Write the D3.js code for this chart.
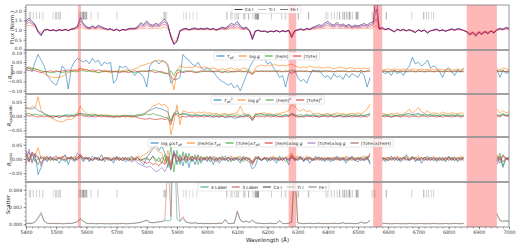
<!DOCTYPE html>
<html>
<head>
<meta charset="utf-8">
<script src="https://cdn.jsdelivr.net/npm/d3@7"></script>
<style>
body{margin:0;background:#fff}
svg{display:block}
text{font-family:"DejaVu Sans",sans-serif}
</style>
</head>
<body>
<svg id="chart" width="520" height="244"></svg>
<script>
var _=null;
// sampling grid (Angstrom), one value every 10 A
var wave=d3.range(5400,7001,10);
// masked regions
var bands=[[5572,5582],[6270,6295],[6550,6580],[6860,6960]];
// line lists
var caI=[5512.98,5581.97,5588.75,5590.11,5594.46,5598.48,5601.28,5857.45,6102.72,6122.22,6161.29,6162.17,6166.44,6169.04,6169.56,6439.07,6449.81,6455.60,6462.57,6471.66,6493.78,6499.65,6717.68];
var tiI=[5490.15,5866.45,5922.11,5941.75,5953.16,5965.83,6064.63,6091.17,6126.22,6258.10,6261.10,6554.22,6556.06,6743.12];
var feI=[5410.91,5415.20,5424.07,5434.52,5445.04,5455.61,5497.52,5501.47,5506.78,5576.09,5586.76,5615.64,5638.26,5701.54,5862.36,5930.18,6065.48,6078.49,6082.71,6096.66,6136.61,6137.69,6151.62,6157.73,6165.36,6213.43,6246.32,6301.50,6302.49,6335.33,6336.82,6393.60,6400.00,6411.65,6421.35,6430.85,6469.19,6475.62,6481.87,6494.98,6498.94,6546.24,6592.91,6593.87,6677.99,6726.67,6733.15,6750.15];

// normalised flux spectra
var fluxLight=[
1.20,1.25,1.20,1.15,1.00,0.88,0.99,1.01,0.99,1.00,
0.98,1.00,0.99,1.01,0.99,1.02,1.04,1.07,1.15,1.10,
1.05,1.04,1.06,1.04,1.06,1.05,1.03,1.01,1.02,1.00,
1.02,0.98,1.01,1.00,1.02,1.03,1.03,1.05,1.08,1.07,
1.12,1.08,1.07,1.10,1.08,1.12,1.15,1.08,0.78,0.40,
0.55,0.95,1.00,1.02,1.00,1.02,1.03,1.01,1.02,1.01,
1.03,1.01,1.02,1.00,1.02,1.04,1.02,1.05,1.07,1.05,
1.08,1.05,1.02,1.04,0.99,0.72,0.96,0.98,0.95,0.96,
0.93,0.95,0.94,0.97,0.93,0.96,0.95,0.98,0.80,0.96,
0.99,1.01,1.00,1.02,1.01,1.04,1.05,1.07,1.06,1.10,
1.12,1.09,1.08,1.10,1.07,1.09,1.06,1.08,1.05,1.07,
1.06,1.08,1.09,1.07,1.10,1.12,1.25,1.03,1.04,1.01,
1.02,1.00,0.95,1.01,0.99,1.01,0.98,1.00,0.97,0.94,
0.99,0.97,0.99,0.92,0.97,0.99,1.01,0.98,0.99,0.97,
0.99,1.01,1.00,1.02,1.01,0.99,0.95,0.86,0.92,0.82,
0.93,0.88,0.94,0.90,0.96,0.92,0.99,1.02,1.01,1.04,
1.02];
var fluxMid=[
1.32,1.40,1.30,1.22,0.95,0.80,0.98,1.02,0.98,1.00,
0.97,1.01,0.99,1.02,0.98,1.03,1.06,1.12,1.30,1.20,
1.10,1.07,1.12,1.08,1.13,1.10,1.06,1.02,1.04,0.99,
1.03,0.97,1.02,1.00,1.04,1.06,1.05,1.10,1.18,1.15,
1.28,1.18,1.15,1.20,1.17,1.25,1.30,1.18,0.70,0.30,
0.45,0.95,1.02,1.05,1.00,1.04,1.06,1.02,1.05,1.03,
1.06,1.02,1.05,1.00,1.04,1.08,1.05,1.10,1.15,1.12,
1.18,1.10,1.05,1.08,0.98,0.60,0.95,0.98,0.93,0.95,
0.90,0.94,0.92,0.96,0.91,0.95,0.93,0.97,0.70,0.95,
1.00,1.03,1.00,1.05,1.02,1.08,1.10,1.14,1.12,1.20,
1.25,1.18,1.15,1.22,1.14,1.18,1.12,1.16,1.10,1.14,
1.12,1.15,1.18,1.14,1.20,1.25,1.60,1.05,1.08,1.02,
1.05,1.00,0.92,1.03,0.98,1.02,0.97,1.01,0.96,0.90,
1.00,0.95,0.99,0.88,0.96,0.99,1.02,0.97,1.00,0.95,
0.99,1.03,1.00,1.04,1.02,0.98,0.92,0.80,0.88,0.75,
0.90,0.82,0.92,0.85,0.95,0.88,1.00,1.05,1.02,1.08,
1.05];
var fluxPurple=[
1.40,1.52,1.38,1.26,0.92,0.75,0.99,1.04,0.97,1.01,
0.96,1.02,0.98,1.04,0.97,1.05,1.08,1.16,1.48,1.28,
1.14,1.10,1.17,1.11,1.19,1.14,1.08,1.03,1.06,0.98,
1.04,0.96,1.03,1.00,1.06,1.08,1.07,1.14,1.28,1.22,
1.38,1.24,1.20,1.28,1.22,1.35,1.44,1.24,0.66,0.28,
0.42,0.96,1.04,1.08,1.01,1.06,1.09,1.04,1.08,1.05,
1.09,1.03,1.08,1.00,1.06,1.12,1.08,1.16,1.25,1.20,
1.32,1.16,1.08,1.12,0.98,0.55,0.95,0.99,0.92,0.95,
0.89,0.94,0.92,0.97,0.90,0.96,0.92,0.98,0.65,0.95,
1.01,1.05,1.00,1.08,1.03,1.12,1.15,1.21,1.18,1.29,
1.35,1.25,1.20,1.31,1.20,1.25,1.17,1.23,1.14,1.20,
1.17,1.22,1.26,1.20,1.29,1.33,2.10,1.06,1.11,1.03,
1.08,1.00,0.91,1.04,0.97,1.03,0.96,1.02,0.95,0.88,
1.01,0.94,0.99,0.86,0.96,1.00,1.04,0.96,1.01,0.94,
1.00,1.05,1.00,1.06,1.03,0.98,0.91,0.77,0.87,0.71,
0.89,0.79,0.92,0.82,0.95,0.86,1.01,1.07,1.03,1.11,
1.07];
var fluxDark=[
1.48,1.62,1.45,1.30,0.90,0.70,1.00,1.05,0.97,1.02,
0.95,1.03,0.97,1.05,0.97,1.06,1.10,1.20,1.65,1.35,
1.18,1.12,1.22,1.14,1.25,1.18,1.10,1.04,1.08,0.97,
1.05,0.95,1.04,1.00,1.08,1.10,1.09,1.18,1.38,1.28,
1.48,1.30,1.25,1.35,1.28,1.45,1.58,1.30,0.62,0.25,
0.40,0.98,1.06,1.10,1.02,1.08,1.12,1.05,1.10,1.06,
1.12,1.04,1.10,1.01,1.08,1.16,1.10,1.22,1.35,1.28,
1.45,1.22,1.10,1.16,0.98,0.50,0.96,1.00,0.92,0.96,
0.88,0.95,0.91,0.98,0.90,0.97,0.92,1.00,0.60,0.96,
1.02,1.07,1.01,1.10,1.05,1.15,1.20,1.28,1.24,1.38,
1.45,1.32,1.26,1.40,1.25,1.32,1.22,1.30,1.18,1.26,
1.22,1.28,1.34,1.26,1.38,1.42,2.90,1.08,1.14,1.04,
1.10,1.01,0.90,1.06,0.97,1.05,0.96,1.03,0.94,0.86,
1.02,0.93,1.00,0.84,0.97,1.01,1.06,0.96,1.02,0.94,
1.01,1.07,1.01,1.08,1.05,0.98,0.90,0.74,0.86,0.68,
0.88,0.76,0.92,0.80,0.96,0.84,1.03,1.10,1.05,1.15,
1.10];

// residual terms, in units of 1e-3
var unit=1e-3;
var linTeff=[
10,20,0,50,90,60,30,-20,-40,-60,
-70,-30,30,10,-90,20,50,70,60,50,
60,40,70,50,60,30,50,40,50,-60,
-40,30,20,30,10,0,-20,0,-10,-30,
-80,30,50,60,40,60,50,30,-60,-40,
-40,-30,90,70,60,40,30,50,20,10,
20,10,0,-20,-40,-50,-60,-70,-60,-85,
-70,-100,-60,-20,20,50,70,75,60,70,
40,50,20,0,-30,-20,-80,-10,0,10,
-30,-50,-40,-60,-20,10,0,10,-10,-30,
-20,-40,-10,-30,-20,-40,-10,-30,-10,-20,
-30,0,-20,-80,-30,_,_,_,0,-10,
0,-20,10,-10,0,-20,10,30,75,40,
50,30,40,60,20,30,20,0,-30,10,
20,0,-20,10,0,20,_,_,_,_,
_,_,_,_,_,_,10,-30,10,-10,
0];
var linLogg=[
20,25,20,15,10,0,-10,-20,-25,-30,
-30,-30,-25,-15,-5,0,5,10,20,15,
10,5,0,0,-5,0,5,0,-5,0,
5,0,5,10,5,10,15,20,30,35,
40,45,50,55,60,50,55,40,-20,-95,
0,30,25,20,25,20,30,25,20,25,
20,15,20,15,10,15,10,15,20,10,
15,10,20,15,10,-10,20,30,35,30,
35,30,40,35,30,35,30,35,40,30,
25,20,25,20,30,25,20,25,20,20,
25,20,15,20,25,20,15,20,20,15,
20,15,20,15,20,_,_,_,10,10,
15,10,15,10,10,15,10,10,15,10,
10,15,10,10,15,10,10,15,10,10,
15,10,10,15,10,10,_,_,_,_,
_,_,_,_,_,_,15,10,20,15,
10];
var linFeh=[
20,20,15,15,10,5,0,0,-5,-5,
0,0,-5,0,0,5,0,0,5,5,
0,5,0,0,-5,0,0,5,0,0,
0,5,0,0,5,0,-5,0,5,0,
5,5,10,5,0,-5,-10,-10,5,-20,
10,5,0,5,0,5,0,-5,0,5,
0,5,0,0,5,0,0,-5,0,0,
5,0,0,5,0,-10,0,5,0,5,
0,5,0,5,0,0,5,0,10,0,
5,0,5,0,0,5,0,0,5,0,
0,5,0,0,5,0,5,0,0,5,
0,5,0,5,0,_,_,_,5,0,
0,5,0,0,5,0,0,5,0,0,
5,0,0,5,0,0,5,0,0,5,
0,0,5,0,0,5,_,_,_,_,
_,_,_,_,_,_,5,0,5,0,
0];
var linTife=[
10,5,10,5,0,-5,0,0,5,0,
5,0,5,5,10,5,10,5,15,10,
10,5,10,5,10,5,5,0,5,0,
0,-5,0,0,-5,0,5,0,0,5,
0,5,0,-5,0,0,-5,-10,-25,-40,
-10,0,-5,0,5,0,-5,0,5,0,
5,0,0,5,0,-5,0,5,0,0,
0,5,0,0,-5,-15,5,0,5,0,
5,0,5,0,5,0,0,5,-10,0,
0,5,0,5,0,0,5,0,0,5,
5,0,0,5,0,5,0,0,5,0,
0,5,0,0,10,_,_,_,0,5,
0,0,5,0,0,5,0,0,5,0,
0,5,0,0,5,0,0,5,0,0,
5,0,0,5,0,0,_,_,_,_,
_,_,_,_,_,_,0,5,0,0,
5];

var quadTeff=[
30,28,25,30,20,15,10,5,0,-5,
0,-5,0,5,0,3,0,5,10,8,
5,3,0,5,0,3,0,-3,0,-5,
0,-3,0,0,3,0,-3,0,5,8,
15,20,25,30,28,25,20,15,-20,10,
20,5,10,8,5,0,5,3,0,5,
0,3,-5,0,-3,0,-5,-3,0,-8,
-5,-3,0,3,5,-15,5,8,10,5,
3,5,0,3,-3,0,5,0,10,5,
0,-3,0,5,0,3,0,-3,0,3,
0,3,-3,0,3,0,-3,0,3,0,
0,3,0,5,10,_,_,_,0,3,
0,-3,0,3,0,5,8,10,5,8,
10,5,8,3,5,0,3,0,5,3,
0,3,0,5,0,3,_,_,_,_,
_,_,_,_,_,_,5,0,8,3,
5];
var quadLogg=[
30,25,35,30,68,20,10,0,-5,-10,
-15,-18,-20,-15,-10,-12,-5,10,35,20,
10,5,8,5,3,5,0,3,0,-3,
0,-3,0,3,0,-3,0,5,3,8,
15,25,35,40,45,38,42,30,-65,-20,
40,-30,20,15,12,15,10,15,12,15,
10,12,8,10,5,8,10,5,8,10,
12,35,10,8,5,-10,10,8,10,12,
8,10,5,8,10,12,15,20,40,35,
22,18,25,15,20,10,8,10,5,8,
10,5,8,12,8,10,5,8,10,8,
12,8,15,25,43,_,_,_,10,8,
5,10,8,12,5,8,15,25,10,20,
30,15,10,20,8,12,10,8,15,10,
8,12,10,8,12,10,_,_,_,_,
_,_,_,_,_,_,25,10,20,12,
15];
var quadFeh=[
8,10,5,8,5,3,5,3,0,3,
0,3,0,3,5,3,5,8,10,5,
3,5,3,5,3,3,5,3,3,0,
3,0,3,3,0,3,3,5,3,5,
8,5,10,5,3,0,-5,-3,-15,10,
10,5,8,5,3,5,3,5,3,5,
3,5,3,5,3,3,5,3,5,3,
5,3,5,3,3,-5,5,3,5,3,
5,3,5,3,5,3,5,3,8,5,
3,5,3,5,3,5,3,3,5,3,
5,3,5,3,3,5,3,5,3,5,
3,5,3,5,8,_,_,_,3,5,
3,5,3,3,5,3,5,3,5,3,
5,3,3,5,3,5,3,3,5,3,
3,5,3,5,3,3,_,_,_,_,
_,_,_,_,_,_,5,3,8,3,
5];
var quadTife=[
5,0,3,0,-3,0,-3,0,0,-3,
0,-3,0,0,-3,0,0,3,5,0,
0,-3,0,-3,0,-3,0,0,-3,0,
-3,0,0,-3,0,-3,0,-5,-8,-10,
-10,-8,-10,-12,-10,-8,-12,-8,-30,5,
5,-5,0,-3,0,-3,0,-3,0,-3,
0,-3,0,0,-3,0,-3,0,-3,0,
-3,0,-3,0,-3,-15,0,-3,0,-3,
0,-3,0,-3,0,-3,0,0,5,0,
-3,0,-3,0,0,-3,0,-3,0,0,
-3,0,-3,0,0,-3,0,0,-3,0,
0,-3,0,-3,5,_,_,_,0,-3,
0,-3,0,0,-3,0,0,-3,0,0,
-3,0,0,-3,0,0,-3,0,-3,0,
0,-3,0,0,-3,0,_,_,_,_,
_,_,_,_,_,_,0,-3,5,0,
0];

var crossLoggTeff=[
10,25,-10,20,-55,-30,5,-10,10,-5,
0,-15,5,15,-20,10,-5,20,10,-10,
5,-10,10,0,-5,15,-10,5,0,-15,
10,-5,5,-10,0,10,-5,5,-10,-20,
5,20,35,50,30,45,20,-10,-40,30,
-20,15,-25,20,-30,10,-20,15,-15,5,
-10,10,-20,5,-15,0,10,-10,5,-5,
0,-15,10,-5,-10,-35,-25,10,-5,5,
-10,5,0,-15,10,-5,5,-20,10,0,
-5,10,-10,5,-15,0,10,-5,5,-10,
5,-10,0,10,-5,5,-15,0,10,-5,
-10,5,-5,10,-20,_,_,_,5,-10,
0,10,-5,5,-10,0,15,-5,10,-10,
5,-15,0,10,-5,5,-10,0,5,-10,
10,-5,5,-10,0,5,_,_,_,_,
_,_,_,_,_,_,-10,10,-30,5,
0];
var crossFehTeff=[
15,5,20,10,40,0,10,0,5,-5,
5,0,10,-5,5,0,10,5,15,5,
0,5,-5,5,0,-5,5,0,5,0,
-5,5,0,5,-5,0,5,10,5,15,
20,30,45,35,25,20,-15,30,-20,20,
10,-10,15,5,10,-5,5,10,0,5,
5,0,10,5,-5,5,0,5,10,0,
5,10,0,-5,5,-15,10,5,0,5,
0,5,10,0,5,-5,5,10,20,5,
10,5,0,10,5,0,5,-5,5,0,
5,0,5,-5,5,0,10,5,0,5,
0,5,10,5,15,_,_,_,0,5,
5,0,5,10,0,5,10,5,0,5,
10,0,5,5,0,10,0,5,-5,5,
0,5,5,0,10,5,_,_,_,_,
_,_,_,_,_,_,15,0,-10,5,
0];
var crossTifeTeff=[
5,-10,15,0,-20,10,0,5,-5,0,
-5,5,0,-10,0,5,-5,0,10,0,
5,0,-5,5,0,-5,0,5,-5,0,
5,0,-5,0,5,-5,0,5,-5,0,
0,-5,10,-10,5,-15,15,-30,43,-46,
30,-20,25,-15,20,-10,15,-20,10,-5,
10,-10,5,-5,0,10,-5,5,-10,5,
0,5,-10,5,0,-10,5,0,-5,5,
-5,0,5,-5,0,5,-10,0,5,-5,
0,5,-5,0,5,-5,0,5,0,-5,
5,0,-5,5,0,-5,5,0,-5,0,
5,-5,0,5,-10,_,_,_,5,0,
-5,0,5,-5,0,5,0,-5,5,0,
-5,5,0,-5,5,0,-5,0,5,-5,
0,5,-5,0,5,0,_,_,_,_,
_,_,_,_,_,_,-5,20,-25,0,
5];
var crossFehLogg=[
30,-10,25,10,5,-15,0,10,-5,5,
10,0,5,10,0,5,-5,5,15,5,
0,5,-5,0,5,-5,0,5,-5,5,
0,-5,5,0,-5,5,0,-5,0,-10,
-15,-10,-20,-15,-25,-10,-20,5,-35,15,
10,-5,5,0,-5,10,0,-5,5,0,
-5,5,0,-10,5,0,-5,5,0,-5,
5,-5,0,5,-5,-20,0,5,-5,0,
5,-5,0,5,0,-5,5,0,15,-5,
0,5,-5,0,5,0,-5,5,0,5,
-5,0,5,0,-5,5,0,-5,5,0,
0,-5,5,0,20,_,_,_,-5,0,
5,-5,0,5,-5,0,5,-5,0,5,
0,-5,5,0,-5,5,0,-5,0,5,
-5,0,5,-5,0,5,_,_,_,_,
_,_,_,_,_,_,10,-5,15,0,
-5];
var crossTifeLogg=[
-20,35,-15,15,10,-25,5,-5,0,5,
-5,5,0,-5,5,0,-10,0,5,-5,
5,0,-5,5,-5,0,5,-5,0,-5,
0,5,-5,0,-5,-10,-5,-15,-20,-25,
-30,-25,-35,-45,-40,-30,-45,-20,-10,25,
5,-10,0,-5,5,-5,0,5,-5,0,
0,-5,5,0,-5,5,0,-5,0,5,
-5,0,5,-5,0,-10,5,0,-5,0,
0,5,-5,0,-5,5,0,-5,5,0,
-5,0,5,-5,0,-5,5,0,-5,0,
0,-5,0,5,-5,0,-5,5,0,-5,
5,0,-5,0,-15,_,_,_,0,-5,
0,5,-5,0,5,-5,0,-5,5,0,
-5,0,5,-5,0,-5,5,0,-5,0,
5,-5,0,5,-5,0,_,_,_,_,
_,_,_,_,_,_,-20,5,-10,0,
0];
var crossTifeFeh=[
15,-5,20,-10,0,5,-5,0,5,0,
0,5,-5,0,5,0,5,-5,10,0,
5,-5,0,5,0,-5,5,0,-5,0,
5,0,-5,5,0,-5,0,5,-5,0,
5,-5,10,0,-10,5,-5,10,-25,20,
-10,5,-5,10,0,-5,5,0,-5,5,
0,5,-5,0,5,-5,0,5,-5,0,
5,-5,0,5,0,-15,0,5,-5,5,
0,-5,5,0,-5,0,5,-5,10,0,
5,0,-5,5,0,-5,0,5,-5,0,
0,5,-5,0,5,0,-5,0,5,-5,
0,5,-5,0,10,_,_,_,5,0,
-5,0,5,-5,0,5,-5,0,5,-5,
0,5,-5,0,5,-5,0,5,-5,0,
5,0,-5,5,0,-5,_,_,_,_,
_,_,_,_,_,_,5,-15,10,0,
0];

// label-to-label scatter, also in units of 1e-3
var scatter4=[
0.08,0.12,0.10,0.25,0.70,1.20,0.35,0.12,0.08,0.10,
0.08,0.10,0.07,0.08,0.12,0.10,0.18,0.30,0.60,0.35,
0.12,0.08,0.10,0.07,0.08,0.10,0.07,0.08,0.06,0.08,
0.07,0.08,0.10,0.07,0.08,0.10,0.12,0.18,0.22,0.35,
0.45,0.22,0.18,0.22,0.28,0.30,0.45,0.40,0.50,12.0,
0.60,0.30,0.70,0.25,0.18,0.12,0.18,0.10,0.12,0.08,
0.10,0.08,0.10,0.08,0.12,0.10,0.50,0.08,0.10,0.12,
1.40,0.45,0.25,0.35,0.22,0.45,0.18,0.12,0.10,0.08,
0.10,0.12,0.08,0.10,0.40,0.10,0.08,0.12,0.25,6.00,
0.18,0.10,0.08,0.10,0.12,0.08,0.10,0.12,0.08,0.10,
0.08,0.10,0.12,0.08,0.10,0.18,0.08,0.12,0.10,0.08,
0.10,0.25,0.12,0.18,0.45,_,_,_,0.12,0.10,
0.08,0.07,0.08,0.10,0.07,0.08,0.07,0.10,0.08,0.07,
0.08,0.10,0.07,0.08,0.07,0.10,0.08,0.07,0.08,0.10,
0.07,0.08,0.10,0.08,0.07,0.12,_,_,_,_,
_,_,_,_,_,_,1.10,0.50,0.40,0.45,
0.40];
var scatter3=[
0.10,0.15,0.12,0.30,0.80,1.40,0.40,0.15,0.10,0.12,
0.10,0.12,0.08,0.10,0.15,0.12,0.20,0.35,0.70,0.40,
0.15,0.10,0.12,0.08,0.10,0.12,0.08,0.10,0.07,0.10,
0.08,0.10,0.12,0.08,0.10,0.12,0.15,0.20,0.25,0.40,
0.50,0.25,0.20,0.25,0.30,0.35,0.50,8.00,0.90,30.0,
5.00,0.40,0.90,0.30,0.20,0.15,0.20,0.12,0.15,0.10,
0.12,0.10,0.12,0.10,0.15,0.12,0.60,0.10,0.12,0.15,
1.60,0.50,0.30,0.40,0.25,0.50,0.20,0.15,0.12,0.10,
0.12,0.15,0.10,0.12,0.45,0.12,0.10,0.15,0.30,8.00,
0.20,0.12,0.10,0.12,0.15,0.10,0.12,0.15,0.10,0.12,
0.10,0.12,0.15,0.10,0.12,0.20,0.10,0.15,0.12,0.10,
0.12,0.30,0.15,0.20,0.50,_,_,_,0.15,0.12,
0.10,0.08,0.10,0.12,0.08,0.10,0.08,0.12,0.10,0.08,
0.10,0.12,0.08,0.10,0.08,0.12,0.10,0.08,0.10,0.12,
0.08,0.10,0.12,0.10,0.08,0.15,_,_,_,_,
_,_,_,_,_,_,1.30,0.40,0.30,0.35,
0.30];

// ---------------- layout ----------------
var svg=d3.select("#chart");
var left=26,right=509;
var x=d3.scaleLinear().domain([5400,7000]).range([left,right]);

var tab={blue:"#1f77b4",orange:"#ff7f0e",green:"#2ca02c",red:"#d62728",purple:"#9467bd",brown:"#8c564b"};
var lineCol={ca:"#3a3a3a",ti:"#b8b8b8",fe:"#7a7a7a"};

var T=[["T","i"],["eff","sub"]];
var G=[["log "],["g","i"]];
var FE=[["[Fe/H]"]], TI=[["[Ti/Fe]"]];
function sq(a){return a.concat([["2","sup"]]);}
function times(a,b){return a.concat([["\u00d7"]]).concat(b);}

var panels=[
  {top:5,bottom:50,dom:[-0.03,2.3],ticks:[0,0.5,1,1.5,2],minor:0.1,fmt:".1f",nudge:{"0":-1},
   label:[["Flux (Norm.)"]],lx:13.5,
   series:[{v:fluxLight,c:"#fb8861",w:0.7,s:1},{v:fluxMid,c:"#d3436e",w:0.7,s:1},
           {v:fluxPurple,c:"#8c2981",w:0.7,s:1},{v:fluxDark,c:"#3b0f70",w:0.7,s:1}],
   markers:[1.55,1.95],
   legend:{x:232,y:5.5,items:[{lab:[["Ca I"]],c:lineCol.ca},{lab:[["Ti I"]],c:lineCol.ti},{lab:[["Fe I"]],c:lineCol.fe}]}},
  {top:50,bottom:94,dom:[-0.116,0.113],ticks:[-0.1,-0.05,0,0.05,0.1],minor:0.01,fmt:".2f",nudge:{"0.1":1},
   label:[["R","i"],["linear","sub"]],lx:11.5,
   series:[{v:linTeff,c:tab.blue},{v:linLogg,c:tab.orange},{v:linFeh,c:tab.green},{v:linTife,c:tab.red}],
   legend:{x:214,y:52,items:[{lab:T,c:tab.blue},{lab:G,c:tab.orange},{lab:FE,c:tab.green},{lab:TI,c:tab.red}]}},
  {top:94,bottom:137,dom:[-0.073,0.078],ticks:[-0.05,0,0.05],minor:0.01,fmt:".2f",
   label:[["R","i"],["quadratic","sub"]],lx:10.5,
   series:[{v:quadTeff,c:tab.blue},{v:quadLogg,c:tab.orange},{v:quadFeh,c:tab.green},{v:quadTife,c:tab.red}],
   legend:{x:211,y:96,items:[{lab:sq(T),c:tab.blue},{lab:sq(G),c:tab.orange},{lab:sq(FE),c:tab.green},{lab:sq(TI),c:tab.red}]}},
  {top:137,bottom:182,dom:[-0.081,0.077],ticks:[-0.05,0,0.05],minor:0.01,fmt:".2f",
   label:[["R","i"],["cross","sub"]],lx:10.5,
   series:[{v:crossLoggTeff,c:tab.blue},{v:crossFehTeff,c:tab.orange},{v:crossTifeTeff,c:tab.green},
           {v:crossFehLogg,c:tab.red},{v:crossTifeLogg,c:tab.purple},{v:crossTifeFeh,c:tab.brown}],
   legend:{x:148,y:139,items:[{lab:times(G,T),c:tab.blue},{lab:times(FE,T),c:tab.orange},{lab:times(TI,T),c:tab.green},
           {lab:times(FE,G),c:tab.red},{lab:times(TI,G),c:tab.purple},{lab:times(TI,FE),c:tab.brown}]}},
  {top:182,bottom:227,dom:[-0.0003,0.0049],ticks:[0,0.002,0.004],minor:0.0005,fmt:".3f",
   label:[["Scatter"]],lx:9.5,
   series:[{v:scatter4,c:"#2a9d8f",o:0.75},{v:scatter3,c:"#b5443a",o:0.6}],
   markers:[0.0031,0.0040],
   legend:{x:198,y:183,items:[{lab:[["4 Label"]],c:"#2a9d8f"},{lab:[["3 Label"]],c:"#c0504d"},
           {lab:[["Ca I"]],c:lineCol.ca},{lab:[["Ti I"]],c:lineCol.ti},{lab:[["Fe I"]],c:lineCol.fe}]}}
];

function rich(t,parts,fs){
  var cur=0;
  parts.forEach(function(p){
    var want=0,size=fs;
    if(p[1]=="sub"){want=fs*0.3;size=fs*0.72;}
    if(p[1]=="sup"){want=-fs*0.4;size=fs*0.72;}
    var ts=t.append("tspan").text(p[0]).attr("font-size",size).attr("dy",want-cur);
    if(p[1]=="i") ts.attr("font-style","italic");
    cur=want;
  });
}

function addLegend(g,lg){
  var fs=4.3,h=8,pad=2.5,ll=8;
  var box=g.append("rect").attr("x",lg.x).attr("y",lg.y).attr("height",h).attr("rx",1)
    .attr("fill","#fff").attr("fill-opacity",0.8).attr("stroke","#cccccc").attr("stroke-width",0.5);
  var cx=lg.x+pad;
  lg.items.forEach(function(it){
    g.append("line").attr("x1",cx).attr("x2",cx+ll).attr("y1",lg.y+h/2).attr("y2",lg.y+h/2)
      .attr("stroke",it.c).attr("stroke-width",1);
    var t=g.append("text").attr("x",cx+ll+2.5).attr("y",lg.y+h/2+1.5).attr("font-size",fs).attr("fill","#222");
    rich(t,it.lab,fs);
    cx+=ll+2.5+t.node().getComputedTextLength()+5;
  });
  box.attr("width",cx-lg.x-5+pad);
}

panels.forEach(function(p,k){
  var y=d3.scaleLinear().domain(p.dom).range([p.bottom,p.top]);
  var g=svg.append("g");
  var cid="clip"+k;
  svg.append("clipPath").attr("id",cid).append("rect")
    .attr("x",left).attr("y",p.top).attr("width",right-left).attr("height",p.bottom-p.top);
  var plot=g.append("g").attr("clip-path","url(#"+cid+")");
  var sc=(k==0)?1:unit;
  var line=d3.line().defined(function(d){return d!=null;})
    .x(function(d,i){return x(wave[i]);}).y(function(d){return y(d*sc);});
  p.series.forEach(function(s){
    plot.append("path").attr("d",line(s.v)).attr("fill","none").attr("stroke",s.c)
      .attr("stroke-width",s.w||0.7).attr("stroke-opacity",s.o||0.85).attr("stroke-linejoin","round");
  });
  if(p.markers){
    [[caI,lineCol.ca,0.7],[tiI,lineCol.ti,0.8],[feI,lineCol.fe,0.6]].forEach(function(m){
      plot.selectAll(null).data(m[0]).enter().append("line")
        .attr("x1",function(d){return x(d);}).attr("x2",function(d){return x(d);})
        .attr("y1",y(p.markers[0])).attr("y2",y(p.markers[1]))
        .attr("stroke",m[1]).attr("stroke-width",0.6).attr("stroke-opacity",m[2]);
    });
  }
  plot.selectAll(null).data(bands).enter().append("rect")
    .attr("x",function(d){return x(d[0]);}).attr("width",function(d){return x(d[1])-x(d[0]);})
    .attr("y",p.top).attr("height",p.bottom-p.top).attr("fill","#ff0000").attr("fill-opacity",0.28);

  // y axis
  var minors=d3.range(Math.ceil(p.dom[0]/p.minor)*p.minor,p.dom[1],p.minor);
  var am=g.append("g").attr("transform","translate("+left+",0)")
    .call(d3.axisLeft(y).tickValues(minors).tickSize(1.4).tickFormat(""));
  var ay=g.append("g").attr("transform","translate("+left+",0)")
    .call(d3.axisLeft(y).tickValues(p.ticks).tickSize(2.5).tickPadding(1.5).tickFormat(d3.format(p.fmt)));
  [am,ay].forEach(function(a){
    a.select(".domain").remove();
    a.selectAll("line").attr("stroke","#444").attr("stroke-width",0.5);
    a.selectAll("text").attr("font-size",4.5).attr("fill","#333").attr("font-family","DejaVu Sans");
  });
  if(p.nudge){
    ay.selectAll(".tick text").attr("transform",function(d){
      var s=p.nudge[String(d)];return s?"translate(0,"+s+")":null;});
  }

  // y label
  var lt=g.append("text").attr("transform","translate("+p.lx+","+((p.top+p.bottom)/2)+") rotate(-90)")
    .attr("text-anchor","middle").attr("font-size",5.3).attr("fill","#222");
  rich(lt,p.label,5.3);

  addLegend(g,p.legend);

  g.append("rect").attr("x",left).attr("y",p.top).attr("width",right-left).attr("height",p.bottom-p.top)
    .attr("fill","none").attr("stroke","#555").attr("stroke-width",0.6);
});

// separators between panels
svg.selectAll(null).data(panels.slice(1)).enter().append("line")
  .attr("x1",left).attr("x2",right).attr("y1",function(p){return p.top;}).attr("y2",function(p){return p.top;})
  .attr("stroke","#a0a0a0").attr("stroke-width",1.4);

// x axis
var last=panels[panels.length-1];
var xm=svg.append("g").attr("transform","translate(0,"+last.bottom+")")
  .call(d3.axisBottom(x).tickValues(d3.range(5400,7001,20)).tickSize(1.4).tickFormat(""));
var xa=svg.append("g").attr("transform","translate(0,"+last.bottom+")")
  .call(d3.axisBottom(x).tickValues(d3.range(5400,7001,100)).tickSize(2.5).tickPadding(1.5).tickFormat(d3.format("d")));
[xm,xa].forEach(function(a){
  a.select(".domain").remove();
  a.selectAll("line").attr("stroke","#444").attr("stroke-width",0.5);
  a.selectAll("text").attr("font-size",4.8).attr("fill","#333").attr("font-family","DejaVu Sans");
});
svg.append("text").attr("x",(left+right)/2).attr("y",242).attr("text-anchor","middle")
  .attr("font-size",5.6).attr("fill","#222").text("Wavelength (\u00c5)");
</script>
</body>
</html>
